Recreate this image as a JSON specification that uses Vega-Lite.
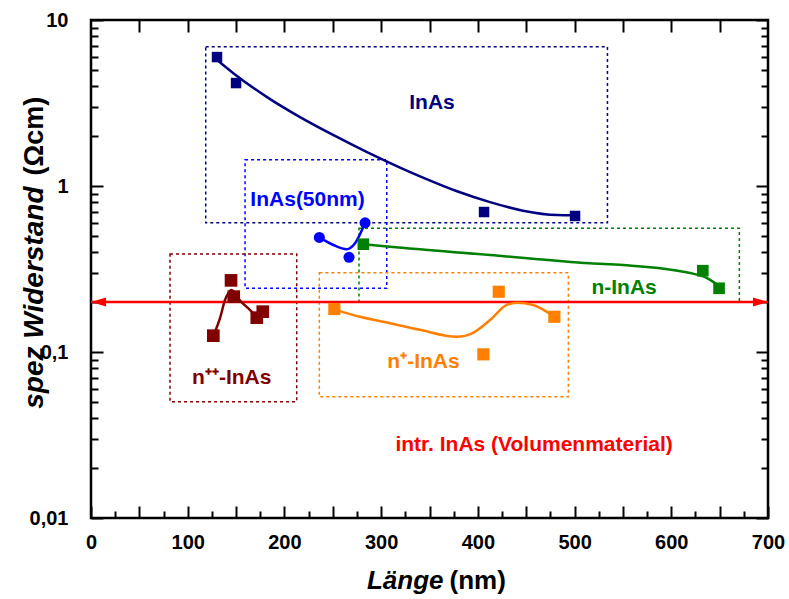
{
  "$schema": "https://vega.github.io/schema/vega-lite/v6.json",
  "width": 677,
  "height": 498,
  "autosize": "none",
  "padding": {"left": 91, "top": 20, "right": 21, "bottom": 81},
  "background": "white",
  "config": {
    "view": {"stroke": "black", "strokeWidth": 2.5},
    "axis": {
      "grid": false, "domain": false, "tickColor": "black", "tickWidth": 2,
      "labelFont": "Liberation Sans", "labelFontWeight": "bold", "labelFontSize": 20, "labelColor": "black",
      "labelFlush": false, "labelOverlap": false,
      "titleFont": "Liberation Sans", "titleFontWeight": "bold", "titleFontSize": 26, "titleColor": "black"
    }
  },
  "datasets": {
    "boxes": [
      {"series": "InAs", "x1": 118.6, "x2": 534, "y1": 0.60, "y2": 6.9},
      {"series": "InAs50", "x1": 159.3, "x2": 305.8, "y1": 0.242, "y2": 1.44},
      {"series": "nInAs", "x1": 277.1, "x2": 670.4, "y1": 0.2, "y2": 0.556},
      {"series": "np", "x1": 236.1, "x2": 493.6, "y1": 0.0538, "y2": 0.30},
      {"series": "npp", "x1": 81.7, "x2": 212.7, "y1": 0.0502, "y2": 0.389}
    ],
    "points": [
      {"series": "InAs", "x": 130.3, "y": 5.98},
      {"series": "InAs", "x": 150, "y": 4.17},
      {"series": "InAs", "x": 406.4, "y": 0.697},
      {"series": "InAs", "x": 500.5, "y": 0.66},
      {"series": "InAs50", "x": 236.1, "y": 0.49},
      {"series": "InAs50", "x": 266.8, "y": 0.372},
      {"series": "InAs50", "x": 283.4, "y": 0.60},
      {"series": "nInAs", "x": 281.6, "y": 0.446},
      {"series": "nInAs", "x": 632.6, "y": 0.309},
      {"series": "nInAs", "x": 649.4, "y": 0.242},
      {"series": "np", "x": 251.6, "y": 0.1815},
      {"series": "np", "x": 405.7, "y": 0.0968},
      {"series": "np", "x": 421.6, "y": 0.2307},
      {"series": "np", "x": 479.1, "y": 0.163},
      {"series": "npp", "x": 126.5, "y": 0.1254},
      {"series": "npp", "x": 144.8, "y": 0.27},
      {"series": "npp", "x": 147.6, "y": 0.2155},
      {"series": "npp", "x": 171.4, "y": 0.161},
      {"series": "npp", "x": 177.6, "y": 0.175}
    ],
    "fits": [
      {"series": "InAs", "x": 130.3, "y": 5.74},
      {"series": "InAs", "x": 146.8, "y": 4.80},
      {"series": "InAs", "x": 182, "y": 3.43},
      {"series": "InAs", "x": 216.1, "y": 2.60},
      {"series": "InAs", "x": 250.3, "y": 2.03},
      {"series": "InAs", "x": 285.4, "y": 1.60},
      {"series": "InAs", "x": 319.5, "y": 1.292},
      {"series": "InAs", "x": 343.3, "y": 1.124},
      {"series": "InAs", "x": 378.5, "y": 0.93},
      {"series": "InAs", "x": 412.6, "y": 0.80},
      {"series": "InAs", "x": 446.7, "y": 0.71},
      {"series": "InAs", "x": 481.9, "y": 0.668},
      {"series": "InAs", "x": 500.5, "y": 0.666},
      {"series": "InAs50", "x": 236.1, "y": 0.49},
      {"series": "InAs50", "x": 250.6, "y": 0.441},
      {"series": "InAs50", "x": 264.4, "y": 0.416},
      {"series": "InAs50", "x": 273, "y": 0.452},
      {"series": "InAs50", "x": 283.4, "y": 0.60},
      {"series": "nInAs", "x": 281.6, "y": 0.446},
      {"series": "nInAs", "x": 309.2, "y": 0.43},
      {"series": "nInAs", "x": 412.6, "y": 0.384},
      {"series": "nInAs", "x": 516, "y": 0.342},
      {"series": "nInAs", "x": 550.2, "y": 0.334},
      {"series": "nInAs", "x": 619.4, "y": 0.299},
      {"series": "nInAs", "x": 637, "y": 0.279},
      {"series": "nInAs", "x": 649.4, "y": 0.25},
      {"series": "np", "x": 251.6, "y": 0.18},
      {"series": "np", "x": 278.2, "y": 0.163},
      {"series": "np", "x": 309.2, "y": 0.149},
      {"series": "np", "x": 340.2, "y": 0.136},
      {"series": "np", "x": 378.2, "y": 0.1236},
      {"series": "np", "x": 395, "y": 0.1306},
      {"series": "np", "x": 412.6, "y": 0.156},
      {"series": "np", "x": 429.9, "y": 0.192},
      {"series": "np", "x": 440.2, "y": 0.198},
      {"series": "np", "x": 457.1, "y": 0.192},
      {"series": "np", "x": 479.1, "y": 0.163},
      {"series": "npp", "x": 126.5, "y": 0.1254},
      {"series": "npp", "x": 133.4, "y": 0.16},
      {"series": "npp", "x": 138.6, "y": 0.206},
      {"series": "npp", "x": 142, "y": 0.226},
      {"series": "npp", "x": 144.8, "y": 0.236},
      {"series": "npp", "x": 147.9, "y": 0.23},
      {"series": "npp", "x": 152.3, "y": 0.21},
      {"series": "npp", "x": 162.7, "y": 0.183},
      {"series": "npp", "x": 171.4, "y": 0.163}
    ],
    "intr": [{"series": "intr", "x": 0, "x2": 700, "y": 0.2}],
    "arrows": [
      {"series": "intr", "dir": "l", "x": 0, "y": 0.2},
      {"series": "intr", "dir": "r", "x": 700, "y": 0.2}
    ],
    "labels": [
      {"series": "InAs", "text": "InAs", "x": 352.6, "y": 3.16},
      {"series": "InAs50", "text": "InAs(50nm)", "x": 223.9, "y": 0.824},
      {"series": "nInAs", "text": "n-InAs", "x": 551.2, "y": 0.242},
      {"series": "np", "text": "n⁺-InAs", "x": 343.8, "y": 0.0871},
      {"series": "npp", "text": "n⁺⁺-InAs", "x": 145.5, "y": 0.0695},
      {"series": "intr", "text": "intr. InAs (Volumenmaterial)", "x": 458.1, "y": 0.0275}
    ]
  },
  "resolve": {
    "scale": {"x": "shared", "y": "shared", "shape": "independent", "size": "independent"},
    "axis": {"x": "independent", "y": "independent"}
  },
  "layer": [
    {
      "data": {"name": "boxes"},
      "mark": {"type": "rect", "fill": "transparent", "strokeWidth": 1.5, "strokeDash": [3, 3]},
      "encoding": {
        "x": {"field": "x1", "type": "quantitative",
          "scale": {"type": "linear", "domain": [0, 700], "nice": false, "zero": false},
          "axis": {"orient": "bottom", "values": [0, 100, 200, 300, 400, 500, 600, 700], "ticks": false, "labelPadding": 14,
            "title": "Länge", "titleFontStyle": "italic", "titleAlign": "right", "titleAnchor": null, "titleX": 352, "titleY": 70, "titleBaseline": "alphabetic"}},
        "x2": {"field": "x2"},
        "y": {"field": "y1", "type": "quantitative",
          "scale": {"type": "log", "domain": [0.01, 10], "nice": false},
          "axis": {"orient": "left", "values": [0.01, 0.1, 1, 10], "ticks": false, "labelPadding": 23,
            "labelExpr": "datum.value < 0.05 ? '0,01' : datum.value < 0.5 ? '0,1' : datum.value < 5 ? '1' : '10'",
            "title": "spez Widerstand", "titleFontStyle": "italic", "titleFontSize": 28, "titleAngle": 270, "titleAlign": "right", "titleAnchor": null, "titleX": -49, "titleY": 166, "titleBaseline": "alphabetic"}},
        "y2": {"field": "y2"},
        "stroke": {"field": "series", "type": "nominal", "legend": null,
          "scale": {"domain": ["InAs", "InAs50", "nInAs", "np", "npp", "intr"], "range": ["#000080", "#0000FF", "#008000", "#FF8000", "#800000", "#FF0000"]}}
      }
    },
    {
      "data": {"name": "intr"},
      "mark": {"type": "rule", "strokeWidth": 2.5},
      "encoding": {
        "x": {"field": "x", "type": "quantitative",
          "axis": {"orient": "bottom", "values": [0, 50, 100, 150, 200, 250, 300, 350, 400, 450, 500, 550, 600, 650, 700], "labels": false, "tickSize": -12,
            "title": "(nm)", "titleAlign": "left", "titleAnchor": null, "titleX": 358, "titleY": 70, "titleBaseline": "alphabetic"}},
        "x2": {"field": "x2"},
        "y": {"field": "y", "type": "quantitative",
          "axis": {"orient": "left", "values": [0.01, 0.1, 1, 10], "labels": false, "tickSize": -12,
            "title": "(Ωcm)", "titleFontSize": 27, "titleAngle": 270, "titleAlign": "left", "titleAnchor": null, "titleX": -49, "titleY": 155, "titleBaseline": "alphabetic"}},
        "color": {"field": "series", "type": "nominal", "legend": null,
          "scale": {"domain": ["InAs", "InAs50", "nInAs", "np", "npp", "intr"], "range": ["#000080", "#0000FF", "#008000", "#FF8000", "#800000", "#FF0000"]}}
      }
    },
    {
      "data": {"name": "fits"},
      "mark": {"type": "line", "strokeWidth": 2.5, "interpolate": "monotone"},
      "encoding": {
        "x": {"field": "x", "type": "quantitative",
          "axis": {"orient": "bottom", "values": [25, 75, 125, 175, 225, 275, 325, 375, 425, 475, 525, 575, 625, 675], "labels": false, "tickSize": -7, "title": null}},
        "y": {"field": "y", "type": "quantitative",
          "axis": {"orient": "left", "values": [0.02, 0.03, 0.04, 0.05, 0.06, 0.07, 0.08, 0.09, 0.2, 0.3, 0.4, 0.5, 0.6, 0.7, 0.8, 0.9, 2, 3, 4, 5, 6, 7, 8, 9], "labels": false, "tickSize": -7, "title": null}},
        "color": {"field": "series", "type": "nominal", "legend": null},
        "detail": {"field": "series"},
        "order": {"field": "x", "type": "quantitative"}
      }
    },
    {
      "data": {"name": "points"},
      "mark": {"type": "point", "filled": true, "opacity": 1},
      "encoding": {
        "x": {"field": "x", "type": "quantitative",
          "axis": {"orient": "top", "values": [50, 100, 150, 200, 250, 300, 350, 400, 450, 500, 550, 600, 650], "labels": false, "tickSize": -12, "title": null}},
        "y": {"field": "y", "type": "quantitative",
          "axis": {"orient": "right", "values": [0.01, 0.1, 1, 10], "labels": false, "tickSize": -12, "title": null}},
        "color": {"field": "series", "type": "nominal", "legend": null},
        "shape": {"field": "series", "type": "nominal", "legend": null,
          "scale": {"domain": ["InAs", "InAs50", "nInAs", "np", "npp"], "range": ["square", "circle", "square", "square", "square"]}},
        "size": {"field": "series", "type": "nominal", "legend": null,
          "scale": {"domain": ["InAs", "InAs50", "nInAs", "np", "npp"], "range": [110, 160, 110, 110, 110]}}
      }
    },
    {
      "data": {"name": "arrows"},
      "mark": {"type": "point", "filled": true, "opacity": 1, "size": 225},
      "encoding": {
        "x": {"field": "x", "type": "quantitative", "axis": null},
        "y": {"field": "y", "type": "quantitative",
          "axis": {"orient": "right", "values": [0.02, 0.03, 0.04, 0.05, 0.06, 0.07, 0.08, 0.09, 0.2, 0.3, 0.4, 0.5, 0.6, 0.7, 0.8, 0.9, 2, 3, 4, 5, 6, 7, 8, 9], "labels": false, "tickSize": -7, "title": null}},
        "color": {"field": "series", "type": "nominal", "legend": null},
        "shape": {"field": "dir", "type": "nominal", "legend": null,
          "scale": {"domain": ["l", "r"], "range": ["M0,0L2,-0.6L2,0.6Z", "M0,0L-2,-0.6L-2,0.6Z"]}}
      }
    },
    {
      "data": {"name": "labels"},
      "mark": {"type": "text", "font": "Liberation Sans", "fontWeight": "bold", "fontSize": 21, "align": "center", "baseline": "middle"},
      "encoding": {
        "x": {"field": "x", "type": "quantitative", "axis": null},
        "y": {"field": "y", "type": "quantitative", "axis": null},
        "text": {"field": "text"},
        "color": {"field": "series", "type": "nominal", "legend": null}
      }
    }
  ]
}
